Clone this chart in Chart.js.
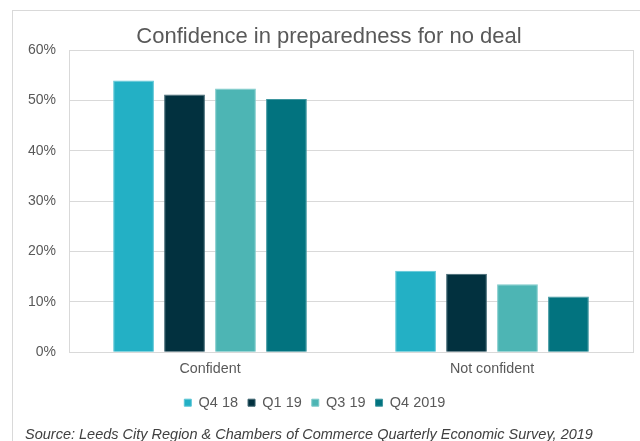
<!DOCTYPE html>
<html>
<head>
<meta charset="utf-8">
<script src="https://cdn.jsdelivr.net/npm/chart.js@4.4.1/dist/chart.umd.min.js"></script>
<style>
html,body{margin:0;padding:0;background:#fff;}
#wrap{width:640px;height:441px;position:relative;}
</style>
</head>
<body>
<div id="wrap"><canvas id="c" width="640" height="441"></canvas></div>
<script>
const categories = ['Confident', 'Not confident'];
const seriesNames = ['Q4 18', 'Q1 19', 'Q3 19', 'Q4 2019'];
const q4_18 = [54.0, 16.2];
const q1_19 = [51.2, 15.6];
const q3_19 = [52.4, 13.5];
const q4_2019 = [50.3, 11.1];
const yTicks = [0, 10, 20, 30, 40, 50, 60];
const titleText = 'Confidence in preparedness for no deal';
const sourceText = 'Source: Leeds City Region & Chambers of Commerce Quarterly Economic Survey, 2019';

const colors = ['#23B0C5', '#02313F', '#4DB5B4', '#02737F'];
const borders = ['#5CC6D6', '#3D6470', '#7DCACA', '#3E969F'];
const seriesData = [q4_18, q1_19, q3_19, q4_2019];
const FONT = '"Liberation Sans", Arial, sans-serif';
const GRID = '#D9D9D9';
const TXT = '#595959';

const framePlugin = {
  id: 'frame',
  beforeDraw(chart) {
    const ctx = chart.ctx;
    ctx.save();
    ctx.fillStyle = '#fff';
    ctx.fillRect(0, 0, chart.width, chart.height);
    ctx.strokeStyle = GRID;
    ctx.lineWidth = 1;
    ctx.strokeRect(12.5, 10.5, 700, 500);
    const a = chart.chartArea;
    ctx.strokeRect(Math.round(a.left) + 0.5, Math.round(a.top) + 0.5, Math.round(a.right - a.left), Math.round(a.bottom - a.top));
    ctx.restore();
  }
};

new Chart(document.getElementById('c'), {
  type: 'bar',
  data: {
    labels: categories,
    datasets: seriesNames.map((n, i) => ({
      label: n,
      data: seriesData[i],
      backgroundColor: colors[i],
      borderColor: borders[i],
      borderWidth: 1,
      categoryPercentage: 0.723,
      barPercentage: 0.8
    }))
  },
  options: {
    responsive: false,
    animation: false,
    devicePixelRatio: 1,
    layout: { padding: { left: 25, right: 7, top: 0, bottom: 0 } },
    plugins: {
      title: {
        display: true,
        text: titleText,
        color: TXT,
        font: { family: FONT, size: 22, weight: 'normal', lineHeight: 1.1 },
        padding: { top: 25, bottom: 1 }
      },
      subtitle: {
        display: true,
        text: sourceText,
        position: 'bottom',
        align: 'start',
        color: '#404040',
        font: { family: FONT, size: 14.5, style: 'italic', weight: 'normal', lineHeight: 0.9 },
        padding: { top: 8, bottom: 0 }
      },
      legend: {
        position: 'bottom',
        labels: {
          color: TXT,
          font: { family: FONT, size: 14.5 },
          boxWidth: 7,
          boxHeight: 7,
          padding: 10,
          generateLabels(chart) {
            const items = Chart.defaults.plugins.legend.labels.generateLabels(chart);
            items.push({ text: ' ', fillStyle: 'rgba(0,0,0,0)', strokeStyle: 'rgba(0,0,0,0)', lineWidth: 0, hidden: false, datasetIndex: -1 });
            return items;
          }
        }
      },
      tooltip: { enabled: false }
    },
    scales: {
      x: {
        grid: { display: false, drawTicks: false },
        border: { display: false },
        ticks: { color: TXT, font: { family: FONT, size: 14.3 }, padding: 8 }
      },
      y: {
        min: 0,
        max: 60,
        afterBuildTicks(scale) { scale.ticks = yTicks.map(v => ({ value: v })); },
        afterFit(scale) { scale.width = 44; },
        grid: { color: GRID, drawTicks: false },
        border: { display: false },
        ticks: {
          color: TXT,
          font: { family: FONT, size: 14 },
          padding: 13,
          callback: v => v + '%'
        }
      }
    }
  },
  plugins: [framePlugin]
});
</script>
</body>
</html>
